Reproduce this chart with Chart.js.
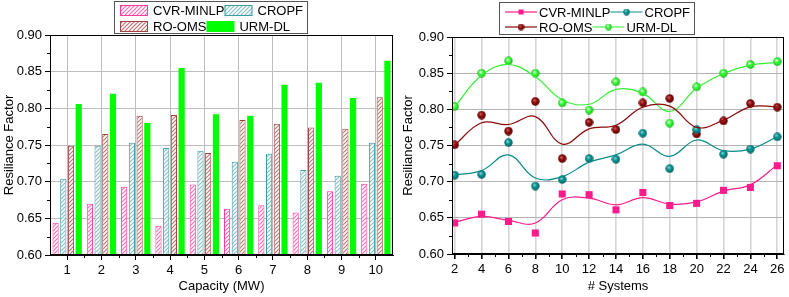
<!DOCTYPE html>
<html>
<head>
<meta charset="utf-8">
<script src="https://cdn.jsdelivr.net/npm/chart.js@4/dist/chart.umd.min.js"></script>
<style>
  html, body { margin: 0; padding: 0; background: #fff; }
  #wrap { position: relative; width: 789px; height: 297px; }
  #barBox { position: absolute; left: 0; top: 0; }
  #lineBox { position: absolute; left: 395px; top: 0; }
</style>
</head>
<body>
<div id="wrap">
  <div id="barBox"><canvas id="barChart" width="395" height="297"></canvas></div>
  <div id="lineBox"><canvas id="lineChart" width="394" height="297"></canvas></div>
</div>
<script>
// ---- data: left panel (bars per capacity) ----
const capacities = ['1', '2', '3', '4', '5', '6', '7', '8', '9', '10'];
const cvrBar   = [0.644, 0.670, 0.693, 0.640, 0.696, 0.663, 0.668, 0.658, 0.687, 0.697];
const cropfBar = [0.704, 0.749, 0.753, 0.746, 0.742, 0.727, 0.738, 0.716, 0.708, 0.753];
const roBar    = [0.749, 0.765, 0.790, 0.791, 0.739, 0.784, 0.779, 0.774, 0.772, 0.815];
const urmBar   = [0.806, 0.820, 0.780, 0.855, 0.792, 0.790, 0.832, 0.835, 0.814, 0.865];

// ---- data: right panel (points per number of systems + smoothed fit) ----
const systems  = [2, 4, 6, 8, 10, 12, 14, 16, 18, 20, 22, 24, 26];
const cvrPts   = [0.643, 0.655, 0.645, 0.629, 0.683, 0.682, 0.661, 0.685, 0.667, 0.670, 0.688, 0.692, 0.722];
const cropfPts = [0.709, 0.710, 0.754, 0.694, 0.703, 0.732, 0.731, 0.767, 0.718, 0.772, 0.738, 0.745, 0.762];
const roPts    = [0.751, 0.792, 0.770, 0.811, 0.732, 0.782, 0.772, 0.809, 0.815, 0.766, 0.784, 0.808, 0.803];
const urmPts   = [0.804, 0.850, 0.867, 0.850, 0.809, 0.799, 0.838, 0.824, 0.781, 0.831, 0.850, 0.862, 0.866];

const cvrFit   = [0.6437, 0.652, 0.6465, 0.6428, 0.675, 0.6773, 0.668, 0.678, 0.669, 0.672, 0.687, 0.6956, 0.7232];
const cropfFit = [0.7094, 0.7153, 0.737, 0.705, 0.707, 0.727, 0.737, 0.752, 0.735, 0.7576, 0.743, 0.745, 0.762];
const roFit    = [0.7507, 0.7815, 0.779, 0.790, 0.752, 0.773, 0.778, 0.803, 0.8045, 0.775, 0.785, 0.8035, 0.8035];
const urmFit   = [0.8035, 0.847, 0.862, 0.845, 0.813, 0.807, 0.8275, 0.822, 0.797, 0.829, 0.8495, 0.861, 0.865];

// ---- tick labels ----
const yTicks = [0.60, 0.65, 0.70, 0.75, 0.80, 0.85, 0.90];
const seriesNames = ['CVR-MINLP', 'CROPF', 'RO-OMS', 'URM-DL'];

const FONT = '"Liberation Sans", Arial, sans-serif';
Chart.defaults.font.family = FONT;
Chart.defaults.font.size = 13;
Chart.defaults.color = '#000';

const yMinor = yTicks.slice(1).map((v, i) => (v + yTicks[i]) / 2);

// diagonal hatch fill for the bars
function hatch(color) {
    const c = document.createElement('canvas');
    c.width = 4; c.height = 4;
    const g = c.getContext('2d');
    g.fillStyle = '#fff';
    g.fillRect(0, 0, 4, 4);
    g.strokeStyle = color;
    g.lineWidth = 1.2;
    g.beginPath();
    g.moveTo(-1, 5); g.lineTo(5, -1);
    g.moveTo(-1, 1); g.lineTo(1, -1);
    g.moveTo(3, 5); g.lineTo(5, 3);
    g.stroke();
    return g.createPattern(c, 'repeat');
}

// little shaded balls for the scatter markers
function ball(base, light, dark, size) {
    const c = document.createElement('canvas');
    c.width = size; c.height = size;
    const g = c.getContext('2d');
    const r = size / 2;
    const grd = g.createRadialGradient(r * 0.75, r * 0.7, 0.3, r, r, r);
    grd.addColorStop(0, light);
    grd.addColorStop(0.45, base);
    grd.addColorStop(1, dark);
    g.fillStyle = grd;
    g.beginPath();
    g.arc(r, r, r - 0.3, 0, Math.PI * 2);
    g.fill();
    return c;
}

const frame = {
    id: 'frame',
    afterDraw(chart) {
        const { ctx, chartArea: a } = chart;
        ctx.save();
        ctx.strokeStyle = '#000';
        ctx.lineWidth = 1;
        ctx.strokeRect(Math.round(a.left) + 0.5, Math.round(a.top) + 0.5,
            Math.round(a.right - a.left) - 1, Math.round(a.bottom - a.top) - 1);
        ctx.restore();
    }
};

const minorTicks = {
    id: 'minorTicks',
    afterDraw(chart, args, opts) {
        const { ctx, chartArea: a } = chart;
        ctx.save();
        ctx.strokeStyle = '#000';
        ctx.lineWidth = 1;
        ctx.beginPath();
        (opts.x || []).forEach(v => {
            const px = Math.round(chart.scales.x.getPixelForValue(v)) + 0.5;
            ctx.moveTo(px, a.bottom); ctx.lineTo(px, a.bottom + 3);
        });
        (opts.y || []).forEach(v => {
            const py = Math.round(chart.scales.y.getPixelForValue(v)) + 0.5;
            ctx.moveTo(a.left, py); ctx.lineTo(a.left - 3, py);
        });
        ctx.stroke();
        ctx.restore();
    }
};

// boxed legend, items flow left to right in the given rows
const boxLegend = {
    id: 'boxLegend',
    afterDraw(chart, args, o) {
        const ctx = chart.ctx;
        ctx.save();
        ctx.font = '13px ' + FONT;
        ctx.textBaseline = 'middle';
        let maxEnd = 0;
        o.rows.forEach((row, r) => {
            let x = o.x;
            const cy = o.y + o.firstRow + r * o.rowGap;
            row.forEach(i => {
                const ds = chart.data.datasets[i];
                if (o.kind === 'box') {
                    ctx.fillStyle = ds.backgroundColor;
                    ctx.fillRect(x, cy - 5, o.sample, 11);
                    if (ds.borderWidth) {
                        ctx.strokeStyle = ds.borderColor;
                        ctx.lineWidth = 1;
                        ctx.strokeRect(x + 0.5, cy - 4.5, o.sample - 1, 10);
                    }
                } else {
                    ctx.strokeStyle = ds.borderColor;
                    ctx.lineWidth = 1.2;
                    ctx.beginPath();
                    ctx.moveTo(x, cy); ctx.lineTo(x + o.sample, cy);
                    ctx.stroke();
                    const mx = x + o.sample / 2;
                    if (o.markers && o.markers[r] && o.markers[r][row.indexOf(i)]) {
                        const m = o.markers[r][row.indexOf(i)];
                        ctx.drawImage(m, mx - m.width / 2, cy - m.height / 2);
                    } else {
                        ctx.fillStyle = ds.backgroundColor;
                        ctx.fillRect(mx - 2.5, cy - 2.5, 5, 5);
                    }
                }
                x += o.sample + o.gap;
                ctx.fillStyle = '#000';
                ctx.fillText(ds.label, x, cy + 1);
                x += ctx.measureText(ds.label).width + o.after;
            });
            maxEnd = Math.max(maxEnd, x);
        });
        ctx.strokeStyle = '#555';
        ctx.lineWidth = 1;
        ctx.strokeRect(o.x - 5.5, o.y + 0.5, maxEnd - o.x + 10, o.h);
        ctx.restore();
    }
};

// ---------------- left: bar chart ----------------
const barColors = [
    { fill: hatch('#ff6cb6'), line: '#ff3d9e' },
    { fill: hatch('#86c4c6'), line: '#3f9ca2' },
    { fill: hatch('#c27676'), line: '#a34242' },
];
const barValues = [cvrBar, cropfBar, roBar, urmBar];

new Chart(document.getElementById('barChart'), {
    type: 'bar',
    data: {
        labels: capacities,
        datasets: barValues.map((vals, i) => ({
            label: seriesNames[i],
            data: vals,
            backgroundColor: i < 3 ? barColors[i].fill : '#00ff00',
            borderColor: i < 3 ? barColors[i].line : '#00ff00',
            borderWidth: i < 3 ? 1 : 0,
            categoryPercentage: 0.9,
            barPercentage: 0.8,
        })),
    },
    options: {
        responsive: false,
        animation: false,
        layout: { padding: { top: 35, right: 2, left: 0, bottom: 0 } },
        plugins: {
            legend: { display: false },
            tooltip: { enabled: false },
            boxLegend: { kind: 'box', x: 120, y: 1, h: 32, firstRow: 9, rowGap: 16, rows: [[0, 1], [2, 3]], sample: 28, gap: 5, after: 0 },
            minorTicks: { x: capacities.slice(1).map((_, i) => i + 0.5), y: yMinor },
        },
        scales: {
            x: {
                grid: { offset: false, color: '#bdbdbd', tickColor: '#000', tickLength: 5 },
                border: { color: '#000' },
                ticks: { padding: 3, maxRotation: 0 },
                title: { display: true, text: 'Capacity (MW)', padding: { top: 2, bottom: 3 } },
                afterFit: s => { s.height = 42; },
            },
            y: {
                min: 0.6, max: 0.9,
                afterBuildTicks: s => { s.ticks = yTicks.map(v => ({ value: v })); },
                grid: { color: '#bdbdbd', tickColor: '#000', tickLength: 5 },
                border: { color: '#000' },
                ticks: { padding: 3, callback: v => v.toFixed(2) },
                title: { display: true, text: 'Resiliance Factor', padding: { top: 2, bottom: 2 } },
                afterFit: s => { s.width = 50; },
            },
        },
    },
    plugins: [frame, minorTicks, boxLegend],
});

// ---------------- right: points + smoothed curves ----------------
const shades = [
    null,
    ['#0a9090', '#7fd6d6', '#056060'],
    ['#8e0b0b', '#d06060', '#5a0000'],
    ['#33ff33', '#e8ffe8', '#18b018'],
];
const lineStyles = [
    { color: '#ff1a8c', marker: 'rect' },
    { color: '#088a8a', marker: ball(...shades[1], 9) },
    { color: '#8b0a0a', marker: ball(...shades[2], 9) },
    { color: '#33ee33', marker: ball(...shades[3], 9) },
];
const legendMarks = shades.map(s => s ? ball(...s, 7) : null);
const ptValues = [cvrPts, cropfPts, roPts, urmPts];
const fitValues = [cvrFit, cropfFit, roFit, urmFit];

const fitSets = fitValues.map((vals, i) => ({
    label: seriesNames[i] + ' fit',
    data: systems.map((x, k) => ({ x, y: vals[k] })),
    borderColor: lineStyles[i].color,
    borderWidth: 1.2,
    pointRadius: 0,
    tension: 0.4,
    fill: false,
}));
const ptSets = ptValues.map((vals, i) => ({
    label: seriesNames[i],
    data: systems.map((x, k) => ({ x, y: vals[k] })),
    showLine: false,
    borderColor: lineStyles[i].color,
    backgroundColor: lineStyles[i].color,
    pointStyle: lineStyles[i].marker,
    pointRadius: i === 0 ? 5 : 4.5,
    pointBorderWidth: 0,
}));

new Chart(document.getElementById('lineChart'), {
    type: 'line',
    data: { datasets: [...fitSets, ...ptSets] },
    options: {
        responsive: false,
        animation: false,
        layout: { padding: { top: 37, right: 2, left: 0, bottom: 0 } },
        plugins: {
            legend: { display: false },
            tooltip: { enabled: false },
            boxLegend: {
                kind: 'line', x: 110, y: 2, h: 32, firstRow: 10, rowGap: 15,
                rows: [[4, 5], [6, 7]], markers: [[null, legendMarks[1]], [legendMarks[2], legendMarks[3]]],
                sample: 32, gap: 2, after: 0,
            },
            minorTicks: { x: systems.slice(1).map((v, i) => (v + systems[i]) / 2), y: yMinor },
        },
        scales: {
            x: {
                type: 'linear',
                min: 1.8, max: 26.5,
                afterBuildTicks: s => { s.ticks = systems.map(v => ({ value: v })); },
                grid: { color: '#d6d6d6', lineWidth: 1.6, tickColor: '#000', tickLength: 5 },
                border: { color: '#000' },
                ticks: { padding: 3, maxRotation: 0 },
                title: { display: true, text: '# Systems', padding: { top: 2, bottom: 3 } },
                afterFit: s => { s.height = 43; },
            },
            y: {
                min: 0.6, max: 0.9,
                afterBuildTicks: s => { s.ticks = yTicks.map(v => ({ value: v })); },
                grid: { color: '#b4b4b4', tickColor: '#000', tickLength: 5 },
                border: { color: '#000' },
                ticks: { padding: 3, callback: v => v.toFixed(2) },
                title: { display: true, text: 'Resiliance Factor', padding: { top: 6, bottom: 2 } },
                afterFit: s => { s.width = 57; },
            },
        },
    },
    plugins: [frame, minorTicks, boxLegend],
});
</script>
</body>
</html>
